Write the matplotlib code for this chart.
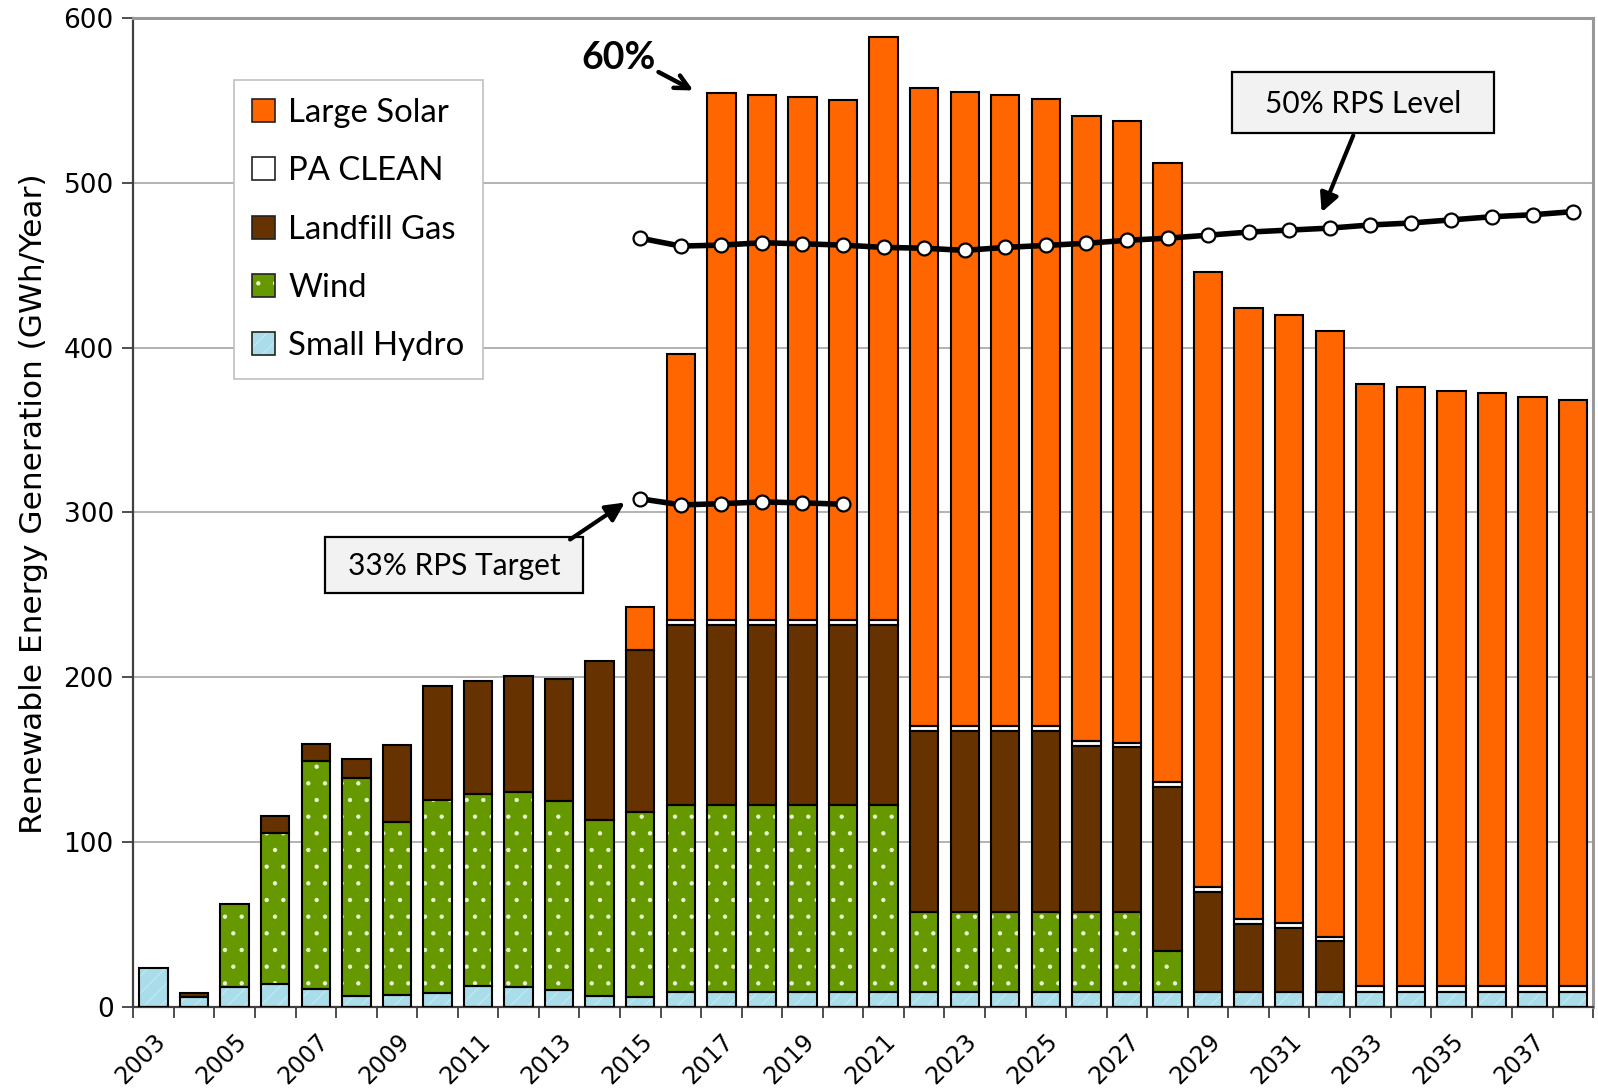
import numpy as np
import matplotlib
matplotlib.use('Agg')
import matplotlib.pyplot as plt
from matplotlib.patches import Rectangle, Patch

# --- data (GWh/Year) ---
years = list(range(2003, 2039))
small_hydro = [23.5, 6.2, 12.3, 13.7, 11.0, 6.6, 7.2, 8.3, 13.0, 12.3, 10.0, 6.4, 5.8,
               9.2, 9.2, 9.2, 9.2, 9.2, 9.2, 9.2, 9.2, 9.2, 9.2, 9.2, 9.2, 9.2,
               9.2, 9.2, 9.2, 9.2, 9.2, 9.2, 9.2, 9.2, 9.2, 9.2]
wind = [0, 0, 50.2, 91.8, 138.5, 132.3, 104.9, 117.4, 116.2, 117.8, 114.7, 107.0, 112.5,
        113.3, 113.3, 113.3, 113.3, 113.3, 113.3, 48.6, 48.6, 48.6, 48.6, 48.6,
        48.6, 24.8, 0, 0, 0, 0, 0, 0, 0, 0, 0, 0]
landfill_gas = [0, 2.0, 0, 10.5, 10.3, 11.5, 46.9, 69.3, 68.4, 70.7, 74.0, 96.6, 98.5,
                109.5, 109.5, 109.5, 109.5, 109.5, 109.5, 109.8, 109.8, 109.8, 109.8,
                100.5, 100.0, 99.4, 60.6, 41.0, 38.8, 31.0, 0, 0, 0, 0, 0, 0]
pa_clean = [0, 0, 0, 0, 0, 0, 0, 0, 0, 0, 0, 0, 0,
            2.5, 2.5, 2.5, 2.5, 2.5, 2.5, 2.6, 2.6, 2.6, 2.6, 2.8, 2.6, 3.0,
            3.2, 3.0, 2.8, 2.5, 3.5, 3.5, 3.5, 3.5, 3.5, 3.5]
large_solar = [0, 0, 0, 0, 0, 0, 0, 0, 0, 0, 0, 0, 25.6,
               161.6, 319.8, 318.6, 317.3, 315.5, 353.8, 387.1, 384.6, 382.8, 380.9,
               379.5, 377.1, 375.7, 373.0, 371.1, 369.2, 367.4, 365.2, 363.3, 360.9,
               359.7, 357.2, 355.3]

rps50_years = list(range(2015, 2039))
rps50 = [466.4, 461.6, 462.2, 463.6, 463.0, 462.2, 460.8, 460.3, 459.0, 460.8, 462.0,
         463.3, 465.1, 466.4, 468.2, 470.1, 471.3, 472.5, 474.4, 475.6, 477.5, 479.4,
         480.6, 482.5]
rps33_years = list(range(2015, 2021))
rps33 = [308.3, 304.6, 305.3, 306.4, 305.8, 305.0]

series = [
    ('Small Hydro', small_hydro, '#a9dde9', '#c6ecf4', '//'),
    ('Wind', wind, '#669900', '#e8f5d0', '.'),
    ('Landfill Gas', landfill_gas, '#663300', None, None),
    ('PA CLEAN', pa_clean, 'white', None, None),
    ('Large Solar', large_solar, '#ff6600', None, None),
]

label_font = 'Lato'
plt.rcParams['hatch.linewidth'] = 0.7

fig = plt.figure(figsize=(15.98, 10.88), dpi=100)
ax = fig.add_axes([0.0834, 0.0745, 0.9137, 0.9090])

x = np.arange(len(years))
bottom = np.zeros(len(years))
handles = {}
for name, vals, fc, hc, hatch in series:
    vals = np.array(vals, dtype=float)
    if hatch:
        ax.bar(x, vals, 0.7, bottom=bottom, color=fc, edgecolor=hc,
               hatch=hatch, linewidth=0, zorder=2)
    else:
        ax.bar(x, vals, 0.7, bottom=bottom, color=fc, linewidth=0, zorder=2)
    mask = vals > 0
    ax.bar(x[mask], vals[mask], 0.7, bottom=bottom[mask], fill=False,
           edgecolor='black', linewidth=1.5, zorder=3)
    handles[name] = (Patch(facecolor=fc, edgecolor=hc if hc else fc, hatch=hatch, linewidth=0),
                     Patch(fill=False, edgecolor='#222222', linewidth=1.2))
    bottom += vals

# RPS lines
x50 = [years.index(y) for y in rps50_years]
x33 = [years.index(y) for y in rps33_years]
for xx, yy in [(x50, rps50), (x33, rps33)]:
    ax.plot(xx, yy, color='black', lw=4, marker='o', ms=10, mfc='white',
            mec='black', mew=1.6, zorder=6)

# axes styling
ax.set_xlim(-0.5, len(years) - 0.5)
ax.set_ylim(0, 600)
ax.set_yticks(range(0, 601, 100))
ax.yaxis.grid(True, color='#a6a6a6', lw=1.2, zorder=0)
ax.set_axisbelow(True)
for s in ['left', 'bottom']:
    ax.spines[s].set_color('#404040')
    ax.spines[s].set_linewidth(1.6)
for s in ['top', 'right']:
    ax.spines[s].set_color('#999999')
    ax.spines[s].set_linewidth(2.2)

ax.set_xticks(x[::2])
ax.set_xticklabels([str(y) for y in years[::2]], rotation=45, ha='right',
                   rotation_mode='anchor', fontsize=17)
ax.set_xticks(np.arange(-0.5, len(years), 1), minor=True)
ax.tick_params(axis='x', which='major', length=0, pad=16)
ax.tick_params(axis='x', which='minor', length=8, width=1.3, color='#404040')
ax.tick_params(axis='y', length=8, width=1.3, color='#404040', labelsize=19, pad=6)

ax.set_ylabel('Renewable Energy Generation (GWh/Year)', fontsize=22.5)
ax.yaxis.set_label_coords(-0.0585, 0.509)

# legend
order = ['Large Solar', 'PA CLEAN', 'Landfill Gas', 'Wind', 'Small Hydro']
leg = ax.legend([handles[n] for n in order], order, loc='upper left',
                bbox_to_anchor=(234 / 1598, 1 - 80 / 1088), bbox_transform=fig.transFigure,
                prop={'family': label_font, 'size': 23.7}, frameon=True, fancybox=False,
                edgecolor='#c0c0c0', framealpha=1, handlelength=0.7, handleheight=0.7,
                handletextpad=0.4, labelspacing=0.86, borderpad=0.55, borderaxespad=0)
leg.get_frame().set_linewidth(1.2)
leg.set_zorder(7)

# annotation boxes
ax.add_patch(Rectangle((26.58, 530.3), 6.47, 36.9, facecolor='#f2f2f2',
                       edgecolor='black', lw=1.6, zorder=8))
ax.text(29.815, 547.8, '50% RPS Level', ha='center', va='center', fontsize=21.5,
        family=label_font, zorder=9)
ax.add_patch(Rectangle((4.23, 251.3), 6.35, 34.0, facecolor='#f2f2f2',
                       edgecolor='black', lw=1.6, zorder=8))
ax.text(7.405, 267.5, '33% RPS Target', ha='center', va='center', fontsize=21.5,
        family=label_font, zorder=9)

arrow = dict(arrowstyle='-|>', lw=3, color='black', mutation_scale=28,
             shrinkA=0, shrinkB=0)
ax.annotate('', xy=(28.80, 482.1), xytext=(29.58, 528.7), arrowprops=arrow, zorder=9)
ax.annotate('', xy=(11.62, 306.0), xytext=(10.27, 283.6), arrowprops=arrow, zorder=9)

ax.text(11.46, 575.5, '60%', ha='center', va='center', fontsize=27,
        fontweight='bold', family=label_font, zorder=9)
ax.annotate('', xy=(13.31, 556.0), xytext=(12.45, 567.2),
            arrowprops=dict(arrowstyle='->', lw=3.2, color='black', mutation_scale=25,
                            shrinkA=0, shrinkB=0), zorder=9)

fig.savefig('out.png', dpi=100)
